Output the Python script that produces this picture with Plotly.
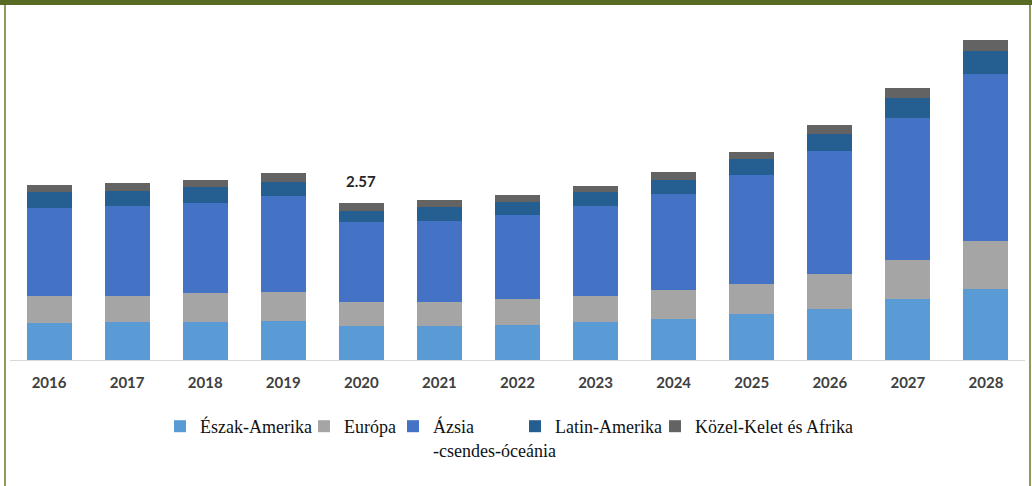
import plotly.graph_objects as go

# Market size by region, 2016-2028
years = ["2016", "2017", "2018", "2019", "2020", "2021", "2022",
         "2023", "2024", "2025", "2026", "2027", "2028"]
north_america = [0.61, 0.62, 0.62, 0.64, 0.56, 0.56, 0.58, 0.62, 0.67, 0.76, 0.84, 0.99, 1.16]
europe = [0.44, 0.43, 0.47, 0.47, 0.39, 0.39, 0.41, 0.43, 0.47, 0.49, 0.57, 0.64, 0.78]
asia_pacific = [1.44, 1.47, 1.48, 1.57, 1.30, 1.33, 1.38, 1.47, 1.58, 1.77, 2.00, 2.32, 2.74]
latin_america = [0.25, 0.25, 0.26, 0.23, 0.19, 0.22, 0.22, 0.22, 0.23, 0.26, 0.29, 0.33, 0.38]
middle_east_africa = [0.13, 0.12, 0.12, 0.15, 0.13, 0.11, 0.11, 0.10, 0.12, 0.12, 0.15, 0.16, 0.17]

series_names = ["Észak-Amerika", "Európa", "Ázsia<br>-csendes-óceánia",
                "Latin-Amerika", "Közel-Kelet és Afrika"]
series_values = [north_america, europe, asia_pacific, latin_america, middle_east_africa]
series_colors = ["#5b9bd5", "#a5a5a5", "#4472c4", "#255e91", "#636363"]

labelled_year = "2020"

W, H = 1032, 486
M_L, M_R, M_T, M_B = 10, 7, 20, 126
PLOT_W = W - M_L - M_R
PLOT_H = H - M_T - M_B


def px_x(px):
    return (px - M_L) / PLOT_W


def px_y(py):
    return (H - M_B - py) / PLOT_H


# each legend entry gets its own legend block so the row keeps its spacing
legend_ids = ["legend", "legend2", "legend3", "legend4", "legend5"]
legend_left_px = [160, 304, 393, 515, 655]

fig = go.Figure()
for name, vals, color, lg in zip(series_names, series_values, series_colors, legend_ids):
    fig.add_trace(go.Bar(x=years, y=vals, name=name, marker_color=color,
                         marker_line_width=0, legend=lg))

idx = years.index(labelled_year)
total = sum(v[idx] for v in series_values)
fig.add_annotation(x=idx, y=total, text=f"{total:.2f}",
                   showarrow=False, yanchor="bottom", yshift=11,
                   font=dict(family="Lato", size=15, color="#262626", weight="bold"))

# page frame: olive band on top, thin rules on the sides
frame = "#586b22"
side = "#8c9a62"
fig.add_shape(type="rect", xref="paper", yref="paper",
              x0=px_x(0), x1=px_x(W), y0=px_y(5), y1=px_y(0),
              fillcolor=frame, line_width=0, layer="above")
fig.add_shape(type="rect", xref="paper", yref="paper",
              x0=px_x(4), x1=px_x(6), y0=px_y(H), y1=px_y(5),
              fillcolor=side, line_width=0, layer="above")
fig.add_shape(type="rect", xref="paper", yref="paper",
              x0=px_x(1029), x1=px_x(1031), y0=px_y(H), y1=px_y(5),
              fillcolor=side, line_width=0, layer="above")

legend_font = dict(family="Liberation Serif", size=18, color="#111111")
legend_layout = {
    lg: dict(orientation="h", x=px_x(left), y=px_y(408),
             xanchor="left", yanchor="top", valign="top",
             bgcolor="rgba(0,0,0,0)", font=legend_font)
    for lg, left in zip(legend_ids, legend_left_px)
}

fig.update_layout(
    width=W, height=H, autosize=False,
    margin=dict(l=M_L, r=M_R, t=M_T, b=M_B, pad=0),
    barmode="stack", bargap=0.424,
    paper_bgcolor="white", plot_bgcolor="white",
    showlegend=True,
    **legend_layout,
    xaxis=dict(type="category", range=[-0.5, len(years) - 0.5],
               showgrid=False, showline=True, automargin=False,
               linecolor="#d9d9d9", linewidth=1, ticks="",
               ticklabelstandoff=9,
               tickfont=dict(family="Lato", size=15, color="#404040", weight="bold")),
    yaxis=dict(range=[0, 5.56], showgrid=False, showticklabels=False,
               zeroline=False, showline=False, automargin=False),
)

fig.write_html("out.html")
